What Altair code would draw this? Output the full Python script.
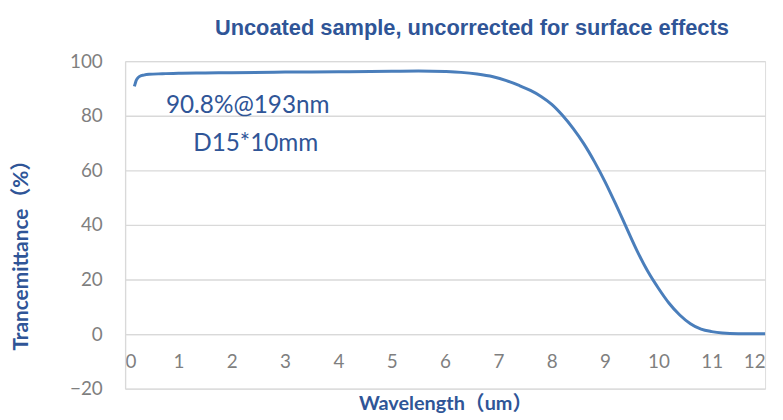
import altair as alt
import pandas as pd

wavelength = [0.175, 0.19, 0.21, 0.24, 0.28, 0.35, 0.45, 0.7, 1.0, 1.5, 2.0, 3.0, 4.0, 5.0, 5.5,
              6.0, 6.3, 6.6, 6.9, 7.15, 7.4, 7.6, 7.8, 8.0, 8.2, 8.4, 8.6, 8.8, 9.0, 9.2, 9.4,
              9.6, 9.8, 10.0, 10.2, 10.4, 10.6, 10.8, 11.0, 11.2, 11.5, 12.0]
transmittance = [90.8, 91.8, 93.0, 93.9, 94.5, 94.9, 95.2, 95.4, 95.6, 95.7, 95.8, 96.0, 96.1, 96.3, 96.4,
                 96.2, 95.9, 95.3, 94.3, 92.9, 91.0, 89.3, 87.1, 84.2, 80.2, 75.4, 69.8, 63.2, 55.8, 47.6, 39.0,
                 30.5, 23.0, 16.8, 11.3, 7.0, 3.8, 1.8, 0.9, 0.4, 0.15, 0.1]

note_text = ["90.8%@193nm", "D15*10mm"]
note_x = [2.3, 2.45]
note_y = [83.6, 69.8]

x_ticks = list(range(0, 13))
y_ticks = [-20, 0, 20, 40, 60, 80, 100]

df = pd.DataFrame({"wl": wavelength, "t": transmittance})
notes = pd.DataFrame({"text": note_text, "x": note_x, "y": note_y})

BLUE = "#2F5597"
GRAY = "#7F7F7F"
GRID = "#d9d9d9"
LABEL_FONT = "Lato, Noto Sans CJK SC"

x_enc = alt.X(
    "wl:Q",
    scale=alt.Scale(domain=[0, 12], nice=False),
    axis=alt.Axis(
        values=x_ticks, format="d", offset=-55, grid=False, ticks=False, domainColor=GRID, domainWidth=1.3,
        labelColor=GRAY, labelFontSize=19, labelFont=LABEL_FONT, labelPadding=19,
        title="Wavelength（um）", titleColor=BLUE, titleFontSize=20, titleFont=LABEL_FONT,
        titleFontWeight="bold", titleY=76, titleBaseline="alphabetic",
    ),
)
y_enc = alt.Y(
    "t:Q",
    scale=alt.Scale(domain=[-20, 100], nice=False),
    axis=alt.Axis(
        values=y_ticks, grid=True, gridColor=GRID, gridWidth=1.3, ticks=False,
        domainColor=GRID, domainWidth=1.3,
        labelColor=GRAY, labelFontSize=19, labelFont=LABEL_FONT, labelPadding=23,
        title="Trancemittance（%）", titleColor=BLUE, titleFontSize=21, titleFont=LABEL_FONT,
        titleFontWeight="bold", titleX=-104, titleY=190, titleAlign="center",
        titleBaseline="middle", titleAngle=270,
    ),
)

line = alt.Chart(df).mark_line(color="#4A7EBB", strokeWidth=3, interpolate="monotone").encode(
    x=x_enc, y=y_enc
)

text = alt.Chart(notes).mark_text(
    color=BLUE, fontSize=24.5, font=LABEL_FONT, align="center", baseline="middle"
).encode(x="x:Q", y="t:Q", text="text:N").transform_calculate(t="datum.y")

chart = alt.layer(line, text).properties(
    width=645,
    height=330,
    autosize=alt.AutoSizeParams(type="none"),
    padding={"left": 118, "top": 52, "right": 10, "bottom": 30},
    title=alt.TitleParams(
        "Uncoated sample, uncorrected for surface effects",
        font="Liberation Sans", fontSize=22, fontWeight="bold", color=BLUE,
        anchor="middle", frame="group", dx=27, offset=12,
    ),
).configure_view(stroke=GRID, strokeWidth=1.3).configure(background="white")

chart.save("out.html", embed_options={"renderer": "svg", "actions": False})
